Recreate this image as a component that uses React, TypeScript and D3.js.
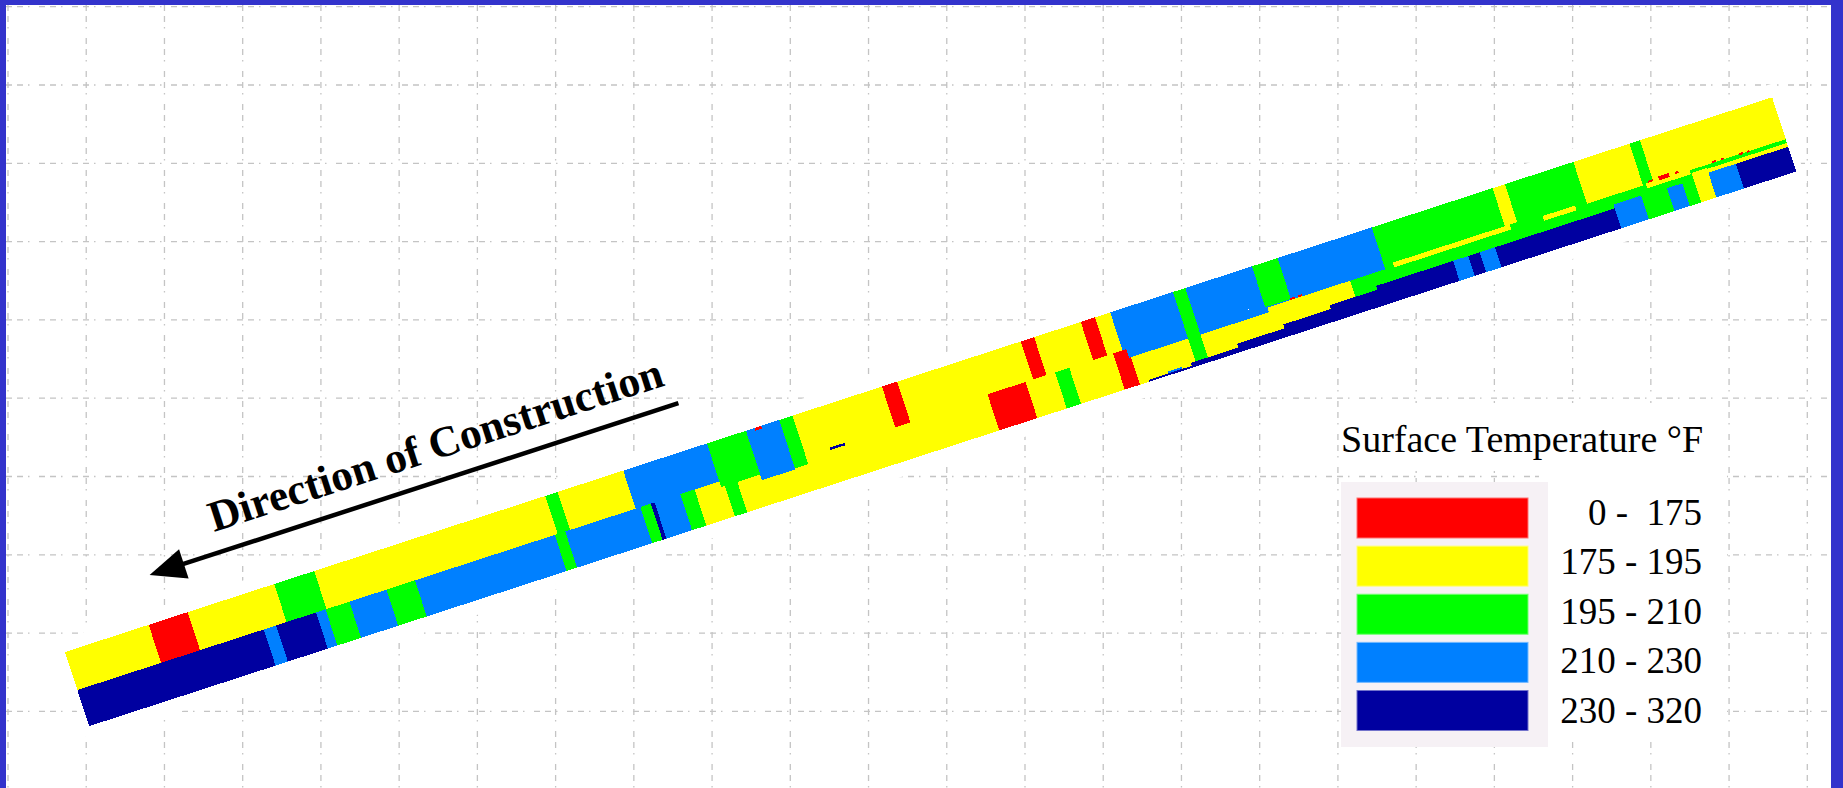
import React from 'react';
import * as d3 from 'd3';

// Temperature classes (°F) used by the thermal scan
const TEMP_CLASSES = ['0 -  175', '175 - 195', '195 - 210', '210 - 230', '230 - 320'];
const R = 0, Y = 1, G = 2, B = 3, N = 4;

// Mat geometry in scanner grid units: station along the mat, offset across it
const MAT_LENGTH = 1795;
const MAT_WIDTH = 78;
const LANE_SPLIT = 40;

// Upper half of the mat: [stationFrom, stationTo, class]
const topLaneRuns: [number, number, number][] = [
  [0, 88, Y], [88, 129, R], [129, 220, Y], [220, 262, G], [262, 505, Y],
  [505, 518, G], [518, 587, Y], [587, 675, B], [675, 716, G], [716, 751, B],
  [751, 765, G], [765, 859, Y], [859, 875, R], [875, 1005, Y], [1005, 1019, R],
  [1019, 1068, Y], [1068, 1083, R], [1083, 1099, Y], [1099, 1165, B], [1165, 1178, G],
  [1178, 1248, B], [1248, 1275, G], [1275, 1374, B], [1374, 1501, G], [1501, 1514, Y],
  [1514, 1586, G], [1586, 1645, Y], [1645, 1656, G], [1656, 1795, Y],
];

// Lower half of the mat: [stationFrom, stationTo, class]
const bottomLaneRuns: [number, number, number][] = [
  [0, 196, N], [196, 209, B], [209, 251, N], [251, 261, B], [261, 286, G],
  [286, 325, B], [325, 355, G], [355, 502, B], [502, 513, G], [513, 592, B],
  [592, 603, G], [603, 607, N], [607, 634, B], [634, 649, G], [649, 679, Y],
  [679, 692, G], [692, 957, Y], [957, 997, R], [997, 1028, Y], [1028, 1043, G],
  [1043, 1089, Y], [1089, 1105, R], [1105, 1337, Y], [1337, 1795, G],
];

// Irregular areas: [stationFrom, stationTo, offsetFrom, offsetTo, class]
const patches: [number, number, number, number, number][] = [
  [675, 716, 40, 46, G], [716, 751, 40, 52, B], [751, 765, 40, 51, G],
  [725, 732, 0, 3, R], [790, 806, 42, 44.5, N], [859, 875, 40, 43, R],
  [1103, 1250, 40, 49, B], [1250, 1374, 40, 44, B], [1248, 1275, 40, 43, G],
  [1165, 1178, 40, 76, G], [1135, 1150, 74, 77, B],
  [1115, 1160, 76, 78, N], [1160, 1210, 73, 78, N], [1210, 1260, 69, 78, N],
  [1260, 1310, 65, 78, N], [1310, 1360, 61, 78, N], [1360, 1611, 57, 78, N],
  [1441, 1457, 57, 78, B], [1469, 1485, 57, 78, B],
  [1383, 1506, 40, 45, Y], [1540, 1574, 42, 47, Y], [1586, 1645, 40, 44, Y],
  [1611, 1640, 53, 78, B], [1667, 1683, 54, 78, B], [1695, 1711, 47, 78, Y],
  [1711, 1740, 52, 78, B], [1740, 1795, 52, 78, N],
  [1656, 1795, 40, 44, Y], [1700, 1795, 48, 52, Y], [1648, 1694, 43, 48, Y],
  [1274, 1279, 42, 44, R], [1283, 1287, 42, 44, R], [1651, 1656, 41, 43, R],
  [1662, 1673, 40, 44, R], [1679, 1683, 41, 43, R], [1718, 1722, 42, 44, R],
  [1727, 1730, 42, 44, R], [1746, 1750, 43, 45, R], [1754, 1757, 43, 45, R],
];

const GRID_COLS = d3.range(24);
const GRID_ROWS = d3.range(10);

const PALETTE = ['#ff0000', '#ffff00', '#00ff00', '#0080ff', '#0000a0'];
const SERIF = "'Liberation Serif', 'Times New Roman', serif";

export default function App() {
  const width = 1843;
  const height = 788;
  const frame = '#3333cc';

  const color = d3.scaleOrdinal<number, string>().domain(d3.range(TEMP_CLASSES.length)).range(PALETTE);

  // Mat placement: origin at upper-left corner, rotated along the roadway
  const matX = 65, matY = 652, matAngle = -18;
  const sx = d3.scaleLinear().domain([0, MAT_LENGTH]).range([0, 1795]);
  const sy = d3.scaleLinear().domain([0, MAT_WIDTH]).range([0, 78]);

  const cells: [number, number, number, number, number][] = [
    ...topLaneRuns.map(([a, b, c]) => [a, b, 0, LANE_SPLIT, c] as [number, number, number, number, number]),
    ...bottomLaneRuns.map(([a, b, c]) => [a, b, LANE_SPLIT, MAT_WIDTH, c] as [number, number, number, number, number]),
    ...patches,
  ];

  const gx = d3.scaleLinear().domain([0, 23]).range([8, 1807.3]);
  const gy = d3.scaleLinear().domain([0, 9]).range([6.7, 711.4]);

  const swatchY = d3.scaleLinear().domain([0, 4]).range([498, 690.5]);
  const labelY = d3.scaleLinear().domain([0, 4]).range([525, 722.7]);

  const gridStyle = {
    stroke: '#c4c4c4',
    strokeWidth: 1.3,
    strokeDasharray: '6 5 6 5 1.5 9.5',
    fill: 'none',
  } as React.CSSProperties;

  return (
    <svg
      width={width}
      height={height}
      viewBox={`0 0 ${width} ${height}`}
      style={{ position: 'absolute', left: 0, top: 0, display: 'block', background: '#fff' }}
    >
      <rect x={0} y={0} width={width} height={height} fill="#ffffff" />

      {/* dash-dot grid */}
      <g>
        {GRID_COLS.map((k) => (
          <line key={`v${k}`} x1={gx(k)} x2={gx(k)} y1={5} y2={height} style={gridStyle} />
        ))}
        {GRID_ROWS.map((k) => (
          <line key={`h${k}`} x1={6} x2={1831} y1={gy(k)} y2={gy(k)} style={gridStyle} />
        ))}
      </g>

      {/* legend backing */}
      <rect x={1343} y={403} width={385} height={68} fill="#ffffff" />
      <rect x={1539} y={470} width={188} height={272} fill="#ffffff" />

      {/* thermal profile of the mat */}
      <g transform={`translate(${matX},${matY}) rotate(${matAngle})`}>
        <rect x={-7} y={-13} width={sx(MAT_LENGTH) + 14} height={sy(MAT_WIDTH) + 27} fill="#ffffff" />
        <g shapeRendering="crispEdges">
          {cells.map(([s0, s1, o0, o1, c], i) => (
            <rect
              key={i}
              x={sx(s0)}
              y={sy(o0)}
              width={sx(s1) - sx(s0)}
              height={sy(o1) - sy(o0)}
              fill={color(c)}
            />
          ))}
        </g>
      </g>

      {/* direction of construction arrow */}
      <g transform={`translate(149.6,575) rotate(${matAngle})`}>
        <line x1={30} y1={0} x2={556} y2={0} stroke="#000" strokeWidth={4.5} />
        <polygon points="0,0 36,-15.5 36,15.5" fill="#000" />
        <text
          x={74.5}
          y={-21}
          fontFamily={SERIF}
          fontWeight="bold"
          fontSize={43.5}
          fill="#000"
        >
          Direction of Construction
        </text>
      </g>

      {/* legend */}
      <text x={1341} y={452} fontFamily={SERIF} fontSize={38} fill="#000">
        Surface Temperature °F
      </text>
      <rect x={1341} y={482} width={207} height={265} fill="#f6f1f5" />
      {TEMP_CLASSES.map((label, i) => (
        <g key={label}>
          <rect
            x={1357}
            y={swatchY(i)}
            width={171}
            height={40}
            fill={color(i)}
            stroke={d3.interpolateRgb(color(i), '#ffffff')(0.45)}
            strokeWidth={1}
          />
          <text
            x={1702}
            y={labelY(i)}
            textAnchor="end"
            fontFamily={SERIF}
            fontSize={37}
            fill="#000"
            style={{ whiteSpace: 'pre' }}
          >
            {label}
          </text>
        </g>
      ))}

      {/* frame */}
      <rect x={0} y={0} width={width} height={5} fill={frame} />
      <rect x={0} y={0} width={6} height={height} fill={frame} />
      <rect x={1831} y={0} width={width - 1831} height={height} fill={frame} />
    </svg>
  );
}
